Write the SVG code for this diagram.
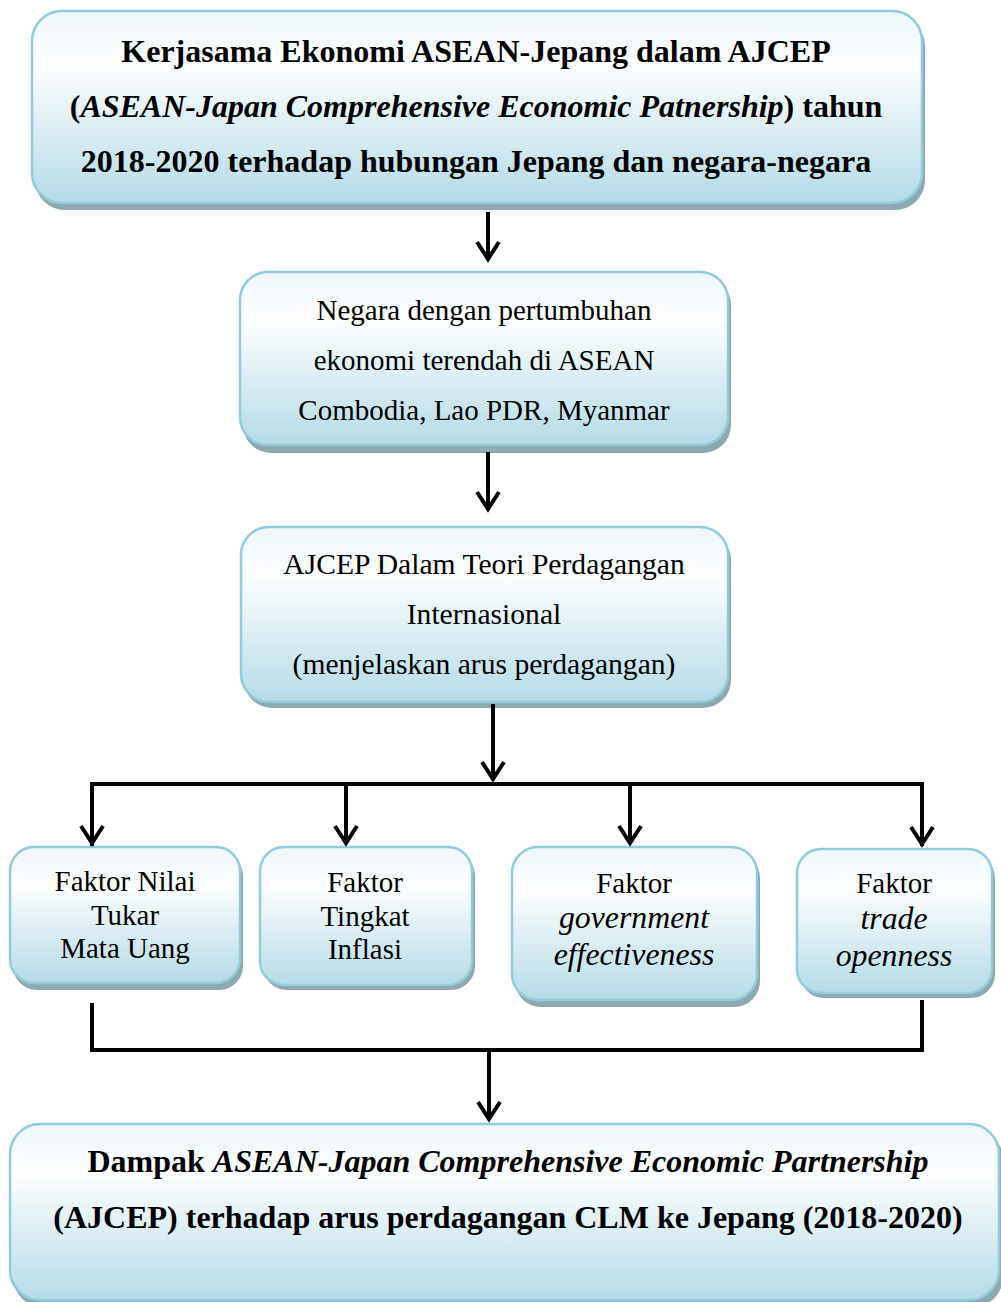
<svg xmlns="http://www.w3.org/2000/svg" width="1001" height="1302" viewBox="0 0 1001 1302">
<defs>
<linearGradient id="fillG" x1="0" y1="0" x2="0" y2="1">
<stop offset="0" stop-color="#eef7fa"/>
<stop offset="0.28" stop-color="#fdfeff"/>
<stop offset="1" stop-color="#b5dbe6"/>
</linearGradient>
<marker id="ah" viewBox="-20 -14 24 28" markerWidth="24" markerHeight="28" refX="0" refY="0" orient="auto" markerUnits="userSpaceOnUse">
<path d="M-17,-11 L0,0 L-17,11" fill="none" stroke="#000" stroke-width="4"/>
</marker>
<style>
.sh{fill:#8ea8b0}
.bx{fill:url(#fillG);stroke:#92cbdb;stroke-width:2.5}
.t{font-family:"Liberation Serif","Times New Roman",serif;fill:#000;text-anchor:middle}
.b{font-weight:bold}
.i{font-style:italic}
.c{fill:none;stroke:#000;stroke-width:4}
</style>
</defs>
<rect width="1001" height="1302" fill="#fff"/>

<g id="node-top">
<rect class="sh" x="35" y="16" width="890" height="194" rx="30"/>
<rect class="bx" x="32" y="11" width="890" height="192" rx="30"/>
<text class="t b" x="476" y="62" font-size="32">Kerjasama Ekonomi ASEAN-Jepang dalam AJCEP</text>
<text class="t b" x="476" y="117" font-size="32">(<tspan class="i">ASEAN-Japan Comprehensive Economic Patnership</tspan>) tahun</text>
<text class="t b" x="476" y="172" font-size="32">2018-2020 terhadap hubungan Jepang dan negara-negara</text>
</g>

<g id="node-negara">
<rect class="sh" x="243" y="277" width="488" height="176" rx="28"/>
<rect class="bx" x="240" y="272" width="488" height="173" rx="28"/>
<text class="t" x="484" y="320" font-size="29">Negara dengan pertumbuhan</text>
<text class="t" x="484" y="370" font-size="29">ekonomi terendah di ASEAN</text>
<text class="t" x="484" y="420" font-size="29">Combodia, Lao PDR, Myanmar</text>
</g>

<g id="node-teori">
<rect class="sh" x="244" y="532" width="487" height="176" rx="28"/>
<rect class="bx" x="241" y="527" width="487" height="175" rx="28"/>
<text class="t" x="484" y="574" font-size="29.6">AJCEP Dalam Teori Perdagangan</text>
<text class="t" x="484" y="624" font-size="29.6">Internasional</text>
<text class="t" x="484" y="674" font-size="29.6">(menjelaskan arus perdagangan)</text>
</g>

<g id="node-nilai-tukar">
<rect class="sh" x="13" y="852" width="230" height="138" rx="24"/>
<rect class="bx" x="10" y="847" width="230" height="136" rx="24"/>
<text class="t" x="125" y="891" font-size="29">Faktor Nilai</text>
<text class="t" x="125" y="925" font-size="29">Tukar</text>
<text class="t" x="125" y="958" font-size="29">Mata Uang</text>
</g>

<g id="node-inflasi">
<rect class="sh" x="263" y="852" width="212" height="138" rx="24"/>
<rect class="bx" x="260" y="847" width="212" height="138" rx="24"/>
<text class="t" x="365" y="892" font-size="29">Faktor</text>
<text class="t" x="365" y="926" font-size="29">Tingkat</text>
<text class="t" x="365" y="959" font-size="29">Inflasi</text>
</g>

<g id="node-government">
<rect class="sh" x="515" y="852" width="245" height="155" rx="26"/>
<rect class="bx" x="512" y="847" width="245" height="153" rx="26"/>
<text class="t" x="634" y="893" font-size="29">Faktor</text>
<text class="t i" x="634" y="928" font-size="31.8">government</text>
<text class="t i" x="634" y="965" font-size="31.8">effectiveness</text>
</g>

<g id="node-trade">
<rect class="sh" x="800" y="854" width="195" height="144" rx="24"/>
<rect class="bx" x="797" y="849" width="195" height="144" rx="24"/>
<text class="t" x="894" y="893" font-size="29">Faktor</text>
<text class="t i" x="894" y="929" font-size="31.8">trade</text>
<text class="t i" x="894" y="966" font-size="31.8">openness</text>
</g>

<g id="node-dampak">
<rect class="sh" x="13" y="1129" width="990" height="178" rx="30"/>
<rect class="bx" x="10" y="1124" width="989" height="176" rx="30"/>
<text class="t b" x="508" y="1172" font-size="32">Dampak <tspan class="i">ASEAN-Japan Comprehensive Economic Partnership</tspan></text>
<text class="t b" x="508" y="1228" font-size="32">(AJCEP) terhadap arus perdagangan CLM ke Jepang (2018-2020)</text>
</g>

<g id="connectors">
<line class="c" x1="488" y1="212" x2="488" y2="259" marker-end="url(#ah)"/>
<line class="c" x1="488" y1="452" x2="488" y2="509" marker-end="url(#ah)"/>
<line class="c" x1="493" y1="704" x2="493" y2="779" marker-end="url(#ah)"/>
<polyline class="c" points="92,846 92,784 922,784 922,846"/>
<line class="c" x1="92" y1="784" x2="92" y2="843" marker-end="url(#ah)"/>
<line class="c" x1="346" y1="784" x2="346" y2="843" marker-end="url(#ah)"/>
<line class="c" x1="630" y1="784" x2="630" y2="843" marker-end="url(#ah)"/>
<line class="c" x1="922" y1="784" x2="922" y2="844" marker-end="url(#ah)"/>
<polyline class="c" points="92,1003 92,1050 922,1050 922,1000"/>
<line class="c" x1="489" y1="1050" x2="489" y2="1119" marker-end="url(#ah)"/>
</g>
</svg>
